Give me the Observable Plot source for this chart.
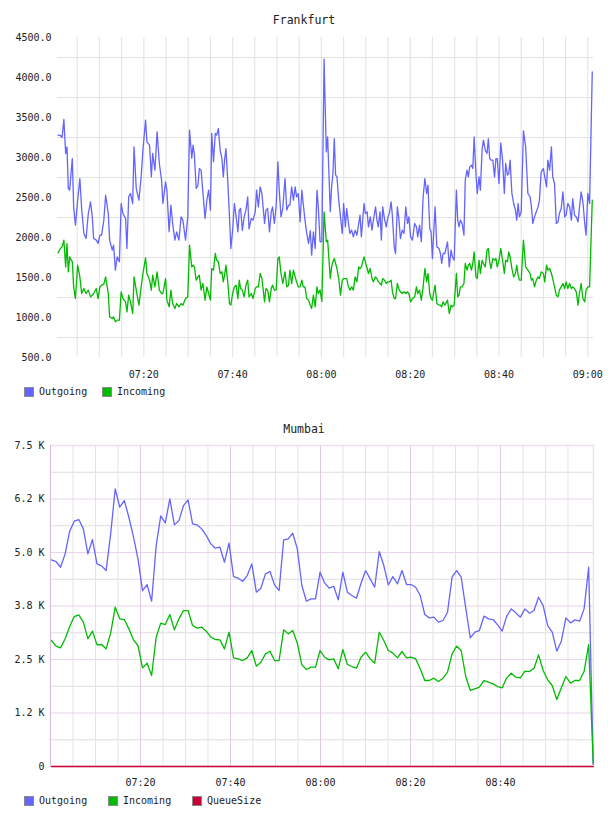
<!DOCTYPE html>
<html><head><meta charset="utf-8">
<script src="https://cdn.jsdelivr.net/npm/d3@7"></script>
<script src="https://cdn.jsdelivr.net/npm/@observablehq/plot@0.6"></script>
<style>
body{margin:0;background:#fff;}
#root{position:relative;width:608px;height:816px;font-family:"DejaVu Sans Mono",monospace;color:#222;overflow:hidden;background:#fff}
.title{position:absolute;left:0;width:608px;text-align:center;font-size:11.5px;line-height:14px;}
.chart{position:absolute;left:0;}
.leg{position:absolute;font-size:10px;line-height:12px;height:12px;display:flex;align-items:center;white-space:nowrap;}
.sw{width:8px;height:8px;border:1px solid #8a8a8a;margin-right:5px;}
</style></head><body><div id="root"></div>
<script>
// ---------------- Frankfurt ----------------
const frankMinutes = [
0.7,1.2,1.6,2.0,2.4,2.7,3.0,3.3,3.9,4.2,4.6,5.1,5.6,6.0,6.5,7.0,7.5,8.0,8.4,8.7,
9.3,9.7,10.1,10.5,11.0,11.4,12.0,12.3,12.9,13.2,13.6,14.0,14.5,14.9,15.3,15.9,16.2,16.6,17.0,17.5,
17.8,18.3,18.9,19.4,19.8,20.4,20.7,21.3,21.7,22.0,22.5,23.0,23.5,24.0,24.3,24.9,25.2,25.7,26.1,26.5,
27.0,27.4,27.9,28.4,28.8,29.4,29.9,30.3,
30.8,31.1,31.4,31.8,32.2,32.5,32.9,33.3,33.8,34.2,34.6,35.0,35.3,35.7,36.1,36.4,36.8,37.2,37.6,37.9,
38.2,38.5,38.9,39.3,39.6,40.0,40.4,40.8,41.2,41.5,41.8,42.2,42.6,43.0,43.4,43.7,44.2,44.6,45.1,45.4,
45.8,46.2,46.6,47.2,47.5,47.9,48.3,48.7,49.0,49.4,49.8,50.2,50.5,50.9,51.3,51.8,52.2,52.6,52.9,53.3,
53.7,54.1,54.4,54.8,55.2,55.6,55.9,56.3,56.7,57.1,57.5,57.8,58.2,58.6,59.0,59.3,59.7,60.1,
60.6,61.1,61.4,62.0,62.3,62.6,62.9,63.2,63.5,63.9,64.3,64.7,65.0,65.4,65.7,66.0,66.4,66.8,67.2,67.6,
68.0,68.4,68.7,69.0,69.6,69.9,70.3,70.6,71.0,71.4,71.7,72.2,72.5,72.8,73.2,73.5,73.8,74.2,74.6,75.0,
75.3,75.7,76.0,76.4,76.7,77.1,77.4,77.8,78.2,78.6,79.0,79.4,79.7,80.1,80.5,81.0,81.4,81.7,82.1,82.5,
82.9,83.3,83.7,84.0,84.4,84.7,85.0,85.6,86.0,86.5,86.8,87.1,87.4,87.8,88.4,88.8,89.2,89.5,89.9,90.4,
90.7,91.0,91.3,91.7,92.1,92.4,92.8,93.1,93.4,93.8,94.1,94.4,94.8,95.1,95.5,95.8,96.2,96.5,96.9,
97.3,97.6,97.9,98.2,98.6,99.0,99.3,99.6,100.0,100.4,100.8,101.2,101.5,101.9,102.2,102.5,102.9,103.3,103.7,104.0,
104.3,104.6,105.0,105.5,106.0,106.5,107.0,107.3,107.6,108.0,108.4,108.8,109.1,109.5,110.0,110.3,110.7,111.0,111.4,111.8,
112.1,112.5,112.9,113.3,113.6,114.0,114.4,114.8,115.1,115.5,115.9,116.3,116.6,117.0,117.4,117.8,118.1,118.5,118.9,119.3,
119.6,120.0,120.4,121.0
];
const frankOutgoing = [
3279,3275,3250,3475,3050,3133,2612,2592,2987,2383,2154,2467,2737,2362,2050,1988,2300,2446,2258,1988,
1967,1925,2029,2029,2217,2529,2300,1967,1842,1904,1592,1758,1696,2425,2300,2237,1862,2508,2550,2425,
3133,2612,2467,2758,3092,3467,3196,3154,2758,3050,2842,3321,2925,2717,2425,2696,2592,2071,2404,2175,
1967,2071,1967,2258,2217,1967,2258,3342,
2992,3154,3029,2612,2654,2862,2842,2571,2237,2467,2592,2342,3300,2946,3300,3279,3362,3092,2987,2758,
2967,3112,2717,2258,1862,2087,2425,2258,2071,2342,2362,2087,2258,2342,2508,2108,2237,2217,2321,2592,
2383,2633,2550,2175,2342,2362,2071,2321,2383,2175,2383,2946,2592,2258,2362,2737,2342,2404,2404,2633,
2467,2633,2508,2550,2196,2592,2425,2217,2050,1925,2087,1779,2071,1862,2592,2383,1946,1950,
4230,3071,3258,2321,2633,2800,3237,2779,2760,2467,2258,2050,2425,2133,2362,2217,2050,2092,2008,2092,
2029,2175,2279,2008,2425,2300,2321,2133,2258,2092,2217,2383,2217,2133,2321,1967,2383,2237,2133,2258,
2300,2446,2258,1883,1800,2383,2258,1987,2092,2050,2383,2175,2258,2008,1967,2175,2133,2008,2154,1946,
2500,2737,2550,2654,2112,2071,1737,2383,1883,1862,1800,1675,1800,1800,1946,1633,1842,1758,1717,2592,
2217,2133,2217,2175,2029,2717,2842,2758,2883,2904,2862,3258,2800,2550,2758,2592,3112,3217,3092,
3050,3237,2987,2967,2967,2758,2987,2987,2675,3183,2967,2550,2925,2779,2800,2967,2550,2425,2342,2217,
2425,2258,2321,3333,3133,2550,2508,2383,2175,2258,2321,2383,2467,2821,2862,2758,2633,2967,2842,3133,
2758,2675,2175,2196,2300,2362,2571,2258,2279,2425,2383,2217,2487,2279,2258,2196,2362,2571,2446,2175,
2029,2550,2425,4071
];
const frankIncoming = [
1808,1862,1883,1967,1633,1925,1571,1758,1696,1383,1237,1654,1508,1300,1362,1300,1342,1258,1279,1300,
1362,1237,1383,1404,1417,1508,1300,1008,988,1008,946,967,967,1321,1237,1196,1071,1279,1196,1050,
1508,1342,1154,1383,1550,1746,1550,1467,1342,1529,1383,1571,1342,1300,1300,1487,1217,1133,1342,1175,
1113,1175,1133,1175,1154,1237,1258,1904,
1633,1654,1633,1467,1508,1529,1342,1425,1217,1383,1300,1217,1612,1592,1800,1717,1696,1550,1571,1446,
1529,1654,1446,1175,1154,1300,1383,1404,1237,1467,1362,1342,1258,1404,1467,1258,1300,1237,1362,1383,
1383,1550,1487,1196,1362,1342,1196,1362,1404,1342,1342,1737,1758,1550,1425,1571,1383,1404,1592,1425,
1592,1508,1446,1383,1383,1467,1383,1383,1237,1217,1154,1113,1279,1133,1383,1300,1342,1200,
2321,1946,1967,1487,1633,1696,1737,1675,1612,1487,1279,1467,1487,1487,1487,1404,1342,1383,1342,1508,
1446,1633,1612,1633,1758,1696,1612,1550,1612,1487,1446,1508,1487,1446,1425,1404,1487,1467,1425,1446,
1446,1467,1321,1237,1237,1425,1362,1321,1300,1321,1300,1321,1300,1196,1237,1258,1383,1300,1342,1217,
1383,1612,1446,1550,1300,1237,1217,1404,1175,1154,1154,1133,1196,1154,1217,1050,1154,1133,1154,1550,
1258,1279,1383,1383,1425,1675,1592,1654,1675,1592,1675,1821,1508,1487,1717,1550,1717,1675,1633,
1842,1863,1696,1612,1737,1717,1737,1633,1717,1863,1717,1550,1717,1696,1821,1758,1612,1508,1550,1654,
1529,1467,1467,1967,1633,1592,1550,1467,1487,1383,1467,1508,1487,1571,1550,1446,1654,1592,1612,1550,
1487,1383,1279,1258,1342,1383,1425,1362,1446,1362,1425,1362,1383,1362,1321,1154,1300,1425,1237,1196,
1342,1383,1383,2467
];
const frankYTicks = [500,1000,1500,2000,2500,3000,3500,4000,4500];
const frankYLabels = ["500.0","1000.0","1500.0","2000.0","2500.0","3000.0","3500.0","4000.0","4500.0"];
const frankGridY = [750,1250,1750,2250,2750,3250,3750,4250];
const frankXTicks = ["07:20","07:40","08:00","08:20","08:40","09:00"];

// ---------------- Mumbai ----------------
const mumbaiOutgoing = [
4827,4789,4656,4968,5497,5731,5770,5552,4968,5303,4734,4687,4578,5435,6486,6058,6213,5824,5373,4851,
4111,4251,3862,5162,5855,5692,6252,5645,5746,6097,6229,5669,5645,5552,5396,5201,5100,5123,4773,5217,
4438,4399,4329,4461,4734,4072,4166,4500,4555,4243,4111,5295,5318,5450,5084,4228,3862,3916,3916,4539,
4290,4166,4212,3893,4539,4072,3994,3932,4282,4578,4383,4189,5022,4695,4243,4438,4267,4578,4251,4251,
4189,3994,3551,3473,3489,3372,3411,3605,4422,4578,4422,3700,3006,3138,3177,3512,3450,3434,3310,3162,
3512,3683,3590,3489,3683,3582,3644,3955,3761,3294,3138,2694,2928,3473,3356,3426,3395,3683,4656,50
];
const mumbaiIncoming = [
2944,2811,2772,2983,3271,3504,3543,3372,2983,3162,2842,2850,2749,3115,3722,3450,3434,3216,2959,2827,
2305,2414,2126,3021,3349,3317,3551,3193,3450,3644,3644,3294,3232,3255,3162,3021,2967,2959,2749,3138,
2539,2515,2476,2539,2710,2344,2437,2632,2694,2476,2476,3193,3099,3177,2881,2375,2266,2321,2321,2710,
2554,2492,2515,2282,2733,2383,2336,2297,2554,2671,2515,2414,3138,2944,2710,2648,2539,2687,2539,2554,
2515,2282,2009,2009,2064,1986,2064,2204,2632,2811,2710,2103,1776,1814,1853,2009,1970,1931,1869,1838,
2071,2180,2087,2071,2227,2219,2297,2609,2243,2025,1892,1565,1838,2103,1947,2009,2009,2219,2850,78
];
const mumbaiQueueSize = [
0,0,0,0,0,0,0,0,0,0,0,0,0,0,0,0,0,0,0,0,0,0,0,0,0,0,0,0,0,0,0,0,0,0,0,0,0,0,0,0,
0,0,0,0,0,0,0,0,0,0,0,0,0,0,0,0,0,0,0,0,0,0,0,0,0,0,0,0,0,0,0,0,0,0,0,0,0,0,0,0,
0,0,0,0,0,0,0,0,0,0,0,0,0,0,0,0,0,0,0,0,0,0,0,0,0,0,0,0,0,0,0,0,0,0,0,0,0,0,0,0
];
const mumbaiYTicks = [0,1250,2500,3750,5000,6250,7500];
const mumbaiYLabels = ["0","1.2 K","2.5 K","3.8 K","5.0 K","6.2 K","7.5 K"];
const mumbaiMinorY = [625,1875,3125,4375,5625,6875];
const mumbaiXTicks = ["07:20","07:40","08:00","08:20","08:40"];

// ---------------- helpers ----------------
const BASE = Date.UTC(2020,0,1,7,0,0);
const T = m => new Date(BASE + m*60000);
const HM = s => { const [h,mm] = s.split(":").map(Number); return new Date(Date.UTC(2020,0,1,h,mm)); };
const fmt = d3.utcFormat("%H:%M");
const BLUE = "#6464ff", GREEN = "#00bb00", RED = "#cc0033";

const root = document.getElementById("root");
function add(el, css){ Object.assign(el.style, css); root.appendChild(el); return el; }
function title(text, top){ const d=document.createElement("div"); d.className="title"; d.textContent=text; add(d,{top:top+"px"}); }
function legend(items, top){
  items.forEach(([label,color,left])=>{
    const d=document.createElement("div"); d.className="leg";
    const s=document.createElement("span"); s.className="sw"; s.style.background=color;
    const t=document.createElement("span"); t.textContent=label;
    d.appendChild(s); d.appendChild(t);
    add(d,{top:top+"px", left:left+"px"});
  });
}

// Frankfurt chart
const n1 = Math.min(frankMinutes.length, frankOutgoing.length, frankIncoming.length);
const frankData = d3.range(n1).map(i => ({t:T(frankMinutes[i]), out:frankOutgoing[i], inc:frankIncoming[i]}));
const fyMap = new Map(frankYTicks.map((v,i)=>[v,frankYLabels[i]]));
const frankGridX = d3.utcMinute.every(5).range(T(5), T(121));

title("Frankfurt", 13);
const p1 = Plot.plot({
  width:608, height:352, marginTop:7, marginBottom:25, marginLeft:57, marginRight:15,
  style:{fontFamily:"'DejaVu Sans Mono', monospace", fontSize:"10px", color:"#222", background:"transparent", overflow:"visible"},
  x:{type:"utc", domain:[T(0.563), T(121.28)], ticks:frankXTicks.map(HM), tickFormat:fmt, tickSize:0, tickPadding:13, label:null},
  y:{domain:[500,4500], ticks:frankYTicks, tickFormat:d=>fyMap.get(d), tickSize:0, tickPadding:6, label:null},
  marks:[
    Plot.ruleY(frankGridY, {stroke:"#e2e2e2", strokeWidth:1}),
    Plot.ruleX(frankGridX, {stroke:"#e6e6e6", strokeWidth:1.2}),
    Plot.line(frankData, {x:"t", y:"out", stroke:BLUE, strokeWidth:1.3}),
    Plot.line(frankData, {x:"t", y:"inc", stroke:GREEN, strokeWidth:1.3})
  ]
});
p1.classList.add("chart");
add(p1, {top:"30px"});
legend([["Outgoing",BLUE,24],["Incoming",GREEN,102]], 386);

// Mumbai chart
const mStart = Date.UTC(2020,0,1,7,0,13), mStep = 60700;
const mumbaiData = mumbaiOutgoing.map((v,i)=>({t:new Date(mStart+i*mStep), out:v, inc:mumbaiIncoming[i], q:mumbaiQueueSize[i]}));
const myMap = new Map(mumbaiYTicks.map((v,i)=>[v,mumbaiYLabels[i]]));
const mGridMinor = d3.utcMinute.every(5).range(T(5), T(120));
const mGridMajor = d3.utcMinute.every(20).range(T(20), T(120));

title("Mumbai", 422);
const p2 = Plot.plot({
  width:608, height:352, marginTop:7, marginBottom:24, marginLeft:50, marginRight:15,
  style:{fontFamily:"'DejaVu Sans Mono', monospace", fontSize:"10px", color:"#222", background:"transparent", overflow:"visible"},
  x:{type:"utc", domain:[T(0), T(120.67)], ticks:mumbaiXTicks.map(HM), tickFormat:fmt, tickSize:0, tickPadding:12, label:null},
  y:{domain:[0,7500], ticks:mumbaiYTicks, tickFormat:d=>myMap.get(d), tickSize:0, tickPadding:6, label:null},
  marks:[
    Plot.ruleY(mumbaiMinorY, {stroke:"#dedede", strokeWidth:1}),
    Plot.ruleX(mGridMinor, {stroke:"#e4e4e4", strokeWidth:1}),
    Plot.ruleY(mumbaiYTicks, {stroke:"#e8d4ec", strokeWidth:1}),
    Plot.ruleX(mGridMajor, {stroke:"#dfc9e2", strokeWidth:1}),
    Plot.frame({stroke:"#eee0f2", strokeWidth:1.5}),
    Plot.ruleX([T(0)], {stroke:"#d8bfdd", strokeWidth:1}),
    Plot.line(mumbaiData, {x:"t", y:"out", stroke:BLUE, strokeWidth:1.3}),
    Plot.line(mumbaiData, {x:"t", y:"inc", stroke:GREEN, strokeWidth:1.3}),
    Plot.line(mumbaiData, {x:"t", y:"q", stroke:RED, strokeWidth:1.3})
  ]
});
p2.classList.add("chart");
add(p2, {top:"438px"});
legend([["Outgoing",BLUE,24],["Incoming",GREEN,108],["QueueSize",RED,192]], 795);
</script>
</body></html>
